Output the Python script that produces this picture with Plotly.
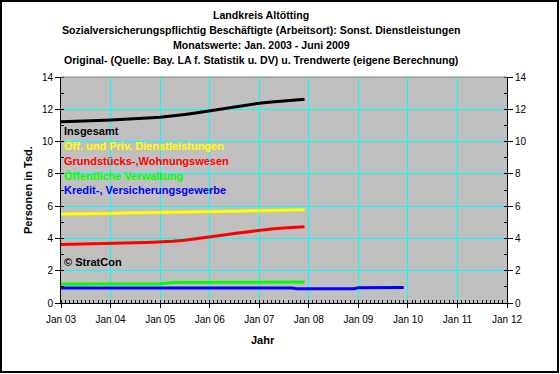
import plotly.graph_objects as go

# ---- data ----
dates_main = ["2003-01-01", "2003-04-01", "2003-07-01", "2003-10-01",
              "2004-01-01", "2004-04-01", "2004-07-01", "2004-10-01",
              "2005-01-01", "2005-04-01", "2005-07-01", "2005-10-01",
              "2006-01-01", "2006-04-01", "2006-07-01", "2006-10-01",
              "2007-01-01", "2007-04-01", "2007-07-01", "2007-10-01",
              "2007-12-01"]
insgesamt = [11.23, 11.24, 11.27, 11.30, 11.34, 11.37, 11.41, 11.46,
             11.51, 11.58, 11.68, 11.79, 11.91, 12.03, 12.15, 12.27,
             12.37, 12.45, 12.52, 12.58, 12.62]
oeff_priv = [5.51, 5.51, 5.52, 5.53, 5.55, 5.57, 5.58, 5.59,
             5.59, 5.60, 5.61, 5.63, 5.65, 5.66, 5.68, 5.70,
             5.72, 5.73, 5.75, 5.77, 5.78]
grundstueck = [3.63, 3.64, 3.66, 3.68, 3.70, 3.71, 3.73, 3.75,
               3.77, 3.82, 3.89, 3.98, 4.09, 4.20, 4.31, 4.41,
               4.51, 4.58, 4.64, 4.69, 4.73]
verwaltung = [1.18, 1.18, 1.18, 1.18, 1.18, 1.19, 1.19, 1.19,
              1.20, 1.27, 1.28, 1.28, 1.28, 1.28, 1.29, 1.29,
              1.29, 1.29, 1.30, 1.30, 1.30]
dates_kredit = ["2003-01-01", "2005-01-01", "2007-09-01", "2007-10-01",
                "2008-12-01", "2009-01-01", "2009-12-01"]
kredit = [0.93, 0.93, 0.93, 0.88, 0.88, 0.95, 0.96]

series_names = ["Insgesamt", "Öff. und Priv. Dienstleistungen",
                "Grundstücks-,Wohnungswesen", "Öffentliche Verwaltung",
                "Kredit-, Versicherungsgewerbe"]
series_colors = ["#000000", "#FFFF00", "#FF0000", "#00FF00", "#0000FF"]

title_lines = ["Landkreis Altötting",
               "Sozialversicherungspflichtig Beschäftigte (Arbeitsort): Sonst. Dienstleistungen",
               "Monatswerte: Jan. 2003 - Juni 2009",
               "Original- (Quelle: Bay. LA f. Statistik u. DV) u. Trendwerte (eigene Berechnung)"]

tick_dates = ["2003-01-01", "2004-01-01", "2005-01-01", "2006-01-01", "2007-01-01",
              "2008-01-01", "2009-01-01", "2010-01-01", "2011-01-01", "2012-01-01"]
tick_labels = ["Jan 03", "Jan 04", "Jan 05", "Jan 06", "Jan 07",
               "Jan 08", "Jan 09", "Jan 10", "Jan 11", "Jan 12"]

# ---- layout geometry ----
W, H = 560, 374
L, R, T, B = 61, 507, 77, 303
pw, ph = R - L, B - T

def px(x):
    return (x - L) / pw

def py(y):
    return (B - y) / ph

FONT = "Liberation Sans, Arial, sans-serif"

fig = go.Figure()
ys = [insgesamt, oeff_priv, grundstueck, verwaltung]
for name, vals, col in zip(series_names[:4], ys, series_colors[:4]):
    fig.add_trace(go.Scatter(x=dates_main, y=vals, mode="lines", name=name,
                             line=dict(color=col, width=3), showlegend=False))
fig.add_trace(go.Scatter(x=dates_kredit, y=kredit, mode="lines", name=series_names[4],
                         line=dict(color=series_colors[4], width=3, shape="linear"),
                         showlegend=False))
# invisible trace for right axis
fig.add_trace(go.Scatter(x=[tick_dates[0]], y=[0], yaxis="y2", mode="markers",
                         marker=dict(opacity=0), showlegend=False, hoverinfo="skip"))

axis_common = dict(range=[0, 14], dtick=2, tick0=0, showgrid=True,
                   gridcolor="#00FFFF", gridwidth=1, zeroline=False,
                   showline=True, linecolor="#000000", linewidth=1,
                   ticks="outside", ticklen=5, tickcolor="#000000",
                   tickfont=dict(family=FONT, size=10, color="#000000"),
                   minor=dict(dtick=1, ticks="inside", ticklen=3, tickcolor="#000000", showgrid=False))

fig.update_layout(
    width=W, height=H,
    margin=dict(l=L, r=W - R, t=T, b=H - B),
    paper_bgcolor="#FFFFFF",
    plot_bgcolor="#C0C0C0",
    font=dict(family=FONT, size=11, color="#000000"),
    xaxis=dict(type="date", range=["2003-01-01", "2012-01-01"],
               tickvals=tick_dates, ticktext=tick_labels,
               showgrid=True, gridcolor="#00FFFF", gridwidth=1, zeroline=False,
               showline=True, linecolor="#000000", linewidth=1,
               ticks="outside", ticklen=4, tickcolor="#000000",
               ticklabelstandoff=3,
               tickfont=dict(family=FONT, size=10, color="#000000"),
               minor=dict(dtick="M1", tick0="2003-01-01", ticks="inside", ticklen=3,
                          tickcolor="#000000", showgrid=False)),
    yaxis=dict(**axis_common, side="left"),
    yaxis2=dict(**axis_common, side="right", overlaying="y"),
    showlegend=False,
)

annotations = []
title_y = [15, 30, 45, 60]
for txt, yy in zip(title_lines, title_y):
    annotations.append(dict(text="<b>%s</b>" % txt, x=px(261), y=py(yy), xref="paper", yref="paper",
                            xanchor="center", yanchor="middle", showarrow=False,
                            font=dict(family=FONT, size=10.6, color="#000000")))
legend_y = [131, 146, 161, 176, 190]
for name, col, yy in zip(series_names, series_colors, legend_y):
    annotations.append(dict(text="<b>%s</b>" % name, x=px(62), y=py(yy), xref="paper", yref="paper",
                            xanchor="left", yanchor="middle", showarrow=False,
                            font=dict(family=FONT, size=11, color=col)))
annotations.append(dict(text="<b>© StratCon</b>", x=px(62), y=py(262), xref="paper", yref="paper",
                        xanchor="left", yanchor="middle", showarrow=False,
                        font=dict(family=FONT, size=11, color="#000000")))
annotations.append(dict(text="<b>Jahr</b>", x=px(263), y=py(340), xref="paper", yref="paper",
                        xanchor="center", yanchor="middle", showarrow=False,
                        font=dict(family=FONT, size=11, color="#000000")))
annotations.append(dict(text="<b>Personen in Tsd.</b>", x=px(28), y=py(190), xref="paper", yref="paper",
                        xanchor="center", yanchor="middle", showarrow=False, textangle=-90,
                        font=dict(family=FONT, size=11, color="#000000")))
fig.update_layout(annotations=annotations)

shapes = [
    # top border of the plot area
    dict(type="line", xref="paper", yref="paper", x0=0, x1=1, y0=1, y1=1,
         line=dict(color="#808080", width=1)),
    # outer frame
    dict(type="rect", xref="paper", yref="paper", x0=px(1), x1=px(558), y0=py(1), y1=py(372),
         line=dict(color="#000000", width=2), fillcolor="rgba(0,0,0,0)"),
]
fig.update_layout(shapes=shapes)

fig.write_html("out.html", config={"displayModeBar": False},
               post_script="document.body.style.margin='0';document.body.style.overflow='hidden';")
